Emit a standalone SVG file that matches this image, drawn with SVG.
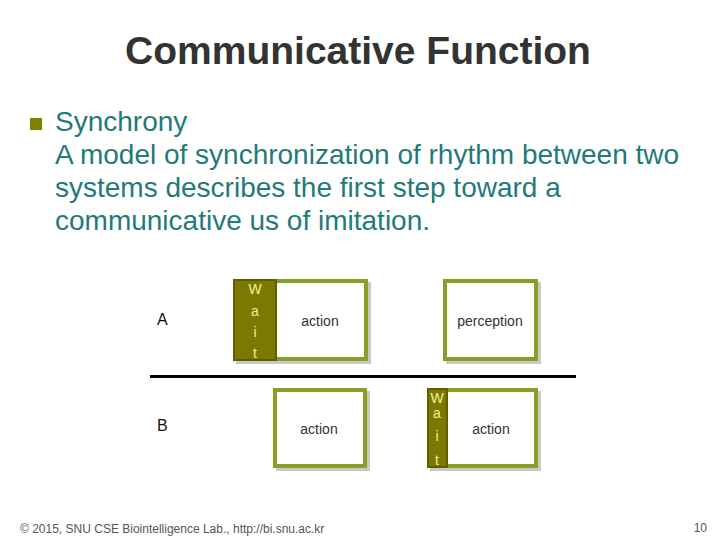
<svg xmlns="http://www.w3.org/2000/svg" width="720" height="540" viewBox="0 0 720 540">
<defs>
<style>
.box{fill:#fff;stroke:#86a024;stroke-width:4}
.sh{fill:#c8c8c8}
.wait{fill:#7a7a00;stroke:#5f5f00;stroke-width:2}
.wt{font-family:"Liberation Sans",Arial,sans-serif;font-size:14px;fill:#f0f0a0;text-anchor:middle}
.lbl{font-family:"Liberation Sans",Arial,sans-serif;font-size:14px;fill:#333;text-anchor:middle}
.body{font-family:"Liberation Sans",Arial,sans-serif;font-size:28px;fill:#1f7a7a}
.row{font-family:"Liberation Sans",Arial,sans-serif;font-size:16px;fill:#111}
</style>
</defs>
<rect width="720" height="540" fill="#fff"/>
<text x="358" y="64" text-anchor="middle" font-family="Liberation Sans,Arial,sans-serif" font-size="39" font-weight="bold" fill="#333">Communicative Function</text>
<rect x="30" y="118" width="12" height="12" fill="#808000"/>
<text class="body" x="55" y="131">Synchrony</text>
<text class="body" x="55" y="164">A model of synchronization of rhythm between two</text>
<text class="body" x="55" y="197">systems describes the first step toward a</text>
<text class="body" x="55" y="230">communicative us of imitation.</text>
<text class="row" x="157" y="325">A</text>
<text class="row" x="157" y="431">B</text>
<g id="connectors">
<line x1="150" y1="376.5" x2="576" y2="376.5" stroke="#000" stroke-width="3"/>
</g>
<g id="A-action">
<rect class="sh" x="236" y="282" width="135" height="82"/>
<rect class="box" x="235" y="281" width="131" height="78"/>
<rect class="wait" x="234" y="280" width="42" height="80"/>
<text class="wt" x="255" y="294">W</text>
<text class="wt" x="255" y="316">a</text>
<text class="wt" x="255" y="337">i</text>
<text class="wt" x="255" y="358">t</text>
<text class="lbl" x="320" y="326">action</text>
</g>
<g id="A-perception">
<rect class="sh" x="446" y="282" width="95" height="82"/>
<rect class="box" x="445" y="281" width="91" height="78"/>
<text class="lbl" x="490" y="326">perception</text>
</g>
<g id="B-action1">
<rect class="sh" x="276" y="391" width="94" height="80"/>
<rect class="box" x="275" y="390" width="90" height="76"/>
<text class="lbl" x="319" y="434">action</text>
</g>
<g id="B-action2">
<rect class="sh" x="430" y="391" width="111" height="80"/>
<rect class="box" x="429" y="390" width="107" height="76"/>
<rect class="wait" x="428" y="389" width="19" height="78"/>
<text class="wt" x="437" y="403">W</text>
<text class="wt" x="437" y="418">a</text>
<text class="wt" x="437" y="441">i</text>
<text class="wt" x="437" y="465">t</text>
<text class="lbl" x="491" y="434">action</text>
</g>
<text x="20" y="533" font-family="Liberation Sans,Arial,sans-serif" font-size="12" fill="#555">© 2015, SNU CSE Biointelligence Lab., http://bi.snu.ac.kr</text>
<text x="707" y="532" text-anchor="end" font-family="Liberation Sans,Arial,sans-serif" font-size="12" fill="#555">10</text>
</svg>
